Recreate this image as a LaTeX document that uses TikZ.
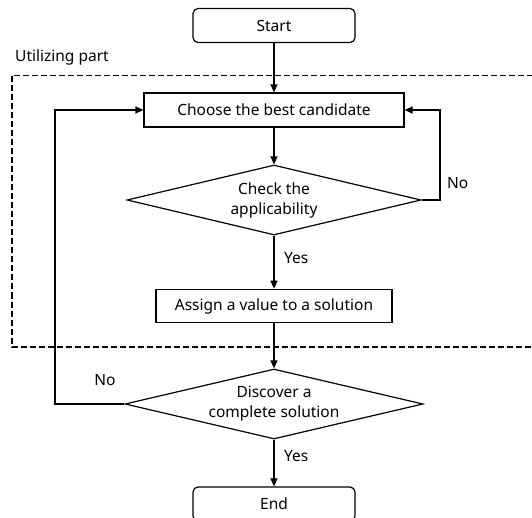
\documentclass[tikz,border=0pt]{standalone}
\usepackage{fontspec}
\setmainfont{Noto Sans}
\usetikzlibrary{shapes.geometric,arrows.meta}
\begin{document}
\begin{tikzpicture}[x=1pt,y=1pt,
  every node/.style={font=\fontsize{15.5}{18}\selectfont},
  term/.style={draw,rounded corners=5pt,line width=1.2pt,minimum width=162pt,minimum height=34pt,inner sep=0pt},
  proc/.style={draw,line width=1.2pt,minimum height=34pt,inner sep=0pt},
  dec/.style={draw,diamond,aspect=4.2,line width=1.2pt,inner sep=0pt,align=center,font=\fontsize{15.5}{20}\selectfont},
  conn/.style={line width=1.2pt,-{Triangle[length=8pt,width=7pt]}},
  lab/.style={inner sep=0pt}
]
\useasboundingbox (0,0) rectangle (532,-518);
\node[term] (start) at (274,-25.5) {Start};
\node[lab,anchor=west] (util) at (15,-57) {Utilizing part};
\draw[line width=1.5pt,dash pattern=on 6pt off 3pt] (560,-75.5) -- (12,-75.5) -- (12,-347) -- (560,-347);
\node[proc,minimum width=260pt] (choose) at (274,-110) {Choose the best candidate};
\node[dec,minimum width=294pt,minimum height=70pt] (check) at (274,-200) {Check the\\applicability};
\node[proc,minimum width=236pt,minimum height=33.5pt] (assign) at (274,-306) {Assign a value to a solution};
\node[dec,minimum width=298pt,minimum height=70pt] (disc) at (274,-404) {Discover a\\complete solution};
\node[term] (end) at (274,-504) {End};
\coordinate (r1) at (440,-200);
\coordinate (r2) at (440,-110);
\coordinate (l1) at (55,-404);
\coordinate (l2) at (55,-110);
\draw[conn] (start) -- (choose);
\draw[conn] (choose) -- (check);
\draw[conn] (check) -- (assign);
\draw[conn] (assign) -- (disc);
\draw[conn] (disc) -- (end);
\draw[conn] (check.east) -- (r1) -- (r2) -- (choose.east);
\draw[conn] (disc.west) -- (l1) -- (l2) -- (choose.west);
\node[lab,anchor=west] (no1) at (447,-183) {No};
\node[lab,anchor=west] (yes1) at (284,-258) {Yes};
\node[lab] (no2) at (105,-380) {No};
\node[lab,anchor=west] (yes2) at (284,-456) {Yes};
\end{tikzpicture}
\end{document}
